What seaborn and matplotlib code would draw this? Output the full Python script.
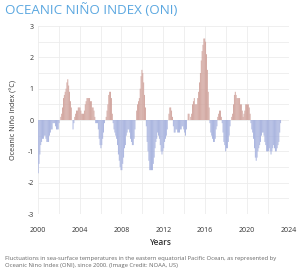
import numpy as np
import pandas as pd
import matplotlib
matplotlib.use("Agg")
import matplotlib.pyplot as plt
import seaborn as sns
from matplotlib.ticker import MultipleLocator

# Monthly ONI values (°C), Jan 2000 onward
oni_2000 = [-1.7, -1.4, -1.1, -0.8, -0.7, -0.6, -0.6, -0.5, -0.5, -0.6, -0.7, -0.7]
oni_2001 = [-0.7, -0.5, -0.4, -0.3, -0.3, -0.1, -0.1, -0.1, -0.2, -0.3, -0.3, -0.3]
oni_2002 = [-0.1, 0.0, 0.1, 0.2, 0.4, 0.7, 0.8, 0.9, 1.0, 1.2, 1.3, 1.1]
oni_2003 = [0.9, 0.6, 0.4, 0.0, -0.3, -0.1, 0.1, 0.2, 0.3, 0.3, 0.4, 0.4]
oni_2004 = [0.4, 0.3, 0.2, 0.2, 0.2, 0.3, 0.5, 0.6, 0.7, 0.7, 0.7, 0.7]
oni_2005 = [0.6, 0.6, 0.4, 0.4, 0.3, 0.1, -0.1, -0.1, -0.1, -0.3, -0.6, -0.8]
oni_2006 = [-0.9, -0.8, -0.6, -0.4, -0.1, 0.0, 0.1, 0.3, 0.5, 0.8, 0.9, 0.9]
oni_2007 = [0.7, 0.2, -0.1, -0.3, -0.4, -0.5, -0.6, -0.8, -1.1, -1.3, -1.5, -1.6]
oni_2008 = [-1.6, -1.4, -1.2, -0.9, -0.8, -0.5, -0.4, -0.3, -0.3, -0.4, -0.6, -0.7]
oni_2009 = [-0.8, -0.8, -0.6, -0.3, 0.0, 0.3, 0.5, 0.6, 0.7, 1.0, 1.4, 1.6]
oni_2010 = [1.5, 1.2, 0.8, 0.4, -0.2, -0.7, -1.0, -1.3, -1.6, -1.6, -1.6, -1.6]
oni_2011 = [-1.4, -1.2, -0.9, -0.7, -0.6, -0.4, -0.5, -0.6, -0.8, -1.0, -1.1, -1.0]
oni_2012 = [-0.9, -0.7, -0.6, -0.5, -0.3, 0.0, 0.2, 0.4, 0.4, 0.3, 0.1, -0.2]
oni_2013 = [-0.4, -0.4, -0.3, -0.3, -0.4, -0.4, -0.4, -0.3, -0.3, -0.2, -0.2, -0.3]
oni_2014 = [-0.4, -0.5, -0.3, 0.0, 0.2, 0.2, 0.0, 0.1, 0.2, 0.5, 0.6, 0.7]
oni_2015 = [0.5, 0.5, 0.5, 0.7, 0.9, 1.2, 1.5, 1.9, 2.2, 2.4, 2.6, 2.6]
oni_2016 = [2.5, 2.1, 1.6, 0.9, 0.4, -0.1, -0.4, -0.5, -0.6, -0.7, -0.7, -0.6]
oni_2017 = [-0.3, -0.2, 0.1, 0.2, 0.3, 0.3, 0.1, -0.1, -0.4, -0.7, -0.8, -1.0]
oni_2018 = [-0.9, -0.9, -0.7, -0.5, -0.2, 0.0, 0.1, 0.2, 0.5, 0.8, 0.9, 0.8]
oni_2019 = [0.7, 0.7, 0.7, 0.7, 0.5, 0.5, 0.3, 0.1, 0.2, 0.3, 0.5, 0.5]
oni_2020 = [0.5, 0.5, 0.4, 0.2, -0.1, -0.3, -0.4, -0.6, -0.9, -1.2, -1.3, -1.2]
oni_2021 = [-1.0, -0.9, -0.8, -0.7, -0.5, -0.4, -0.4, -0.5, -0.7, -0.8, -1.0, -1.0]
oni_2022 = [-1.0, -0.9, -1.0, -1.1, -1.0, -0.9, -0.8, -0.9, -1.0, -1.0, -0.9, -0.8]
oni_2023 = [-0.7, -0.4, -0.1]

years = list(range(2000, 2024))
year_values = [oni_2000, oni_2001, oni_2002, oni_2003, oni_2004, oni_2005, oni_2006,
               oni_2007, oni_2008, oni_2009, oni_2010, oni_2011, oni_2012, oni_2013,
               oni_2014, oni_2015, oni_2016, oni_2017, oni_2018, oni_2019, oni_2020,
               oni_2021, oni_2022, oni_2023]

x_ticks = [2000, 2004, 2008, 2012, 2016, 2020, 2024]
y_ticks = [-3, -2, -1, 0, 1, 2, 3]

title = "OCEANIC NIÑO INDEX (ONI)"
y_label = "Oceanic Niño Index (°C)"
x_label = "Years"
caption = ("Fluctuations in sea-surface temperatures in the eastern equatorial Pacific Ocean, as represented by\n"
           "Oceanic Nino Index (ONI), since 2000. (Image Credit: NOAA, US)")

rows = []
for yr, vals in zip(years, year_values):
    for m, v in enumerate(vals):
        rows.append({"t": round(yr + (m + 0.5) / 12.0, 4), "oni": v,
                     "phase": "warm" if v > 0 else "cool"})
df = pd.DataFrame(rows)

sns.set_theme(style="white")
plt.rcParams['font.family'] = ['Open Sans', 'DejaVu Sans']

fig = plt.figure(figsize=(3.0, 2.72), dpi=100)
ax = fig.add_axes([0.1257, 0.2132, 0.8373, 0.6912])

sns.barplot(data=df, x="t", y="oni", hue="phase", native_scale=True, dodge=False,
            palette={"warm": "#d89990", "cool": "#9aaae6"}, width=1.0,
            errorbar=None, legend=False, linewidth=0, ax=ax)
for p in ax.patches:
    p.set_snap(False)
    p.set_antialiased(True)

ax.set_xlim(2000, 2024)
ax.set_ylim(-3, 3)
ax.xaxis.set_major_locator(MultipleLocator(4))
ax.xaxis.set_minor_locator(MultipleLocator(2))
ax.yaxis.set_major_locator(MultipleLocator(1))
ax.yaxis.set_minor_locator(MultipleLocator(0.5))
ax.set_xticks(x_ticks)
ax.set_xticklabels([str(v) for v in x_ticks])
ax.set_yticks(y_ticks)
ax.set_yticklabels([str(v) for v in y_ticks])
ax.grid(True, which="both", color="#ececec", linewidth=0.6)
ax.set_axisbelow(True)
for s in ax.spines.values():
    s.set_visible(False)
ax.tick_params(axis="both", which="both", length=0, labelsize=5, colors="#333333")
ax.tick_params(axis="x", pad=9)
ax.tick_params(axis="y", pad=3)
ax.set_xlabel("")
ax.set_ylabel("")

fig.text(0.018, 0.963, title, color="#5aa7e0", fontsize=9.6, ha="left", va="center")
fig.text(0.045, 0.558, y_label, rotation=90, fontsize=5.2, color="#333333",
         ha="center", va="center")
fig.text(0.537, 0.11, x_label, fontsize=6, color="#333333", ha="center", va="center",
         fontweight="semibold")
fig.text(0.017, 0.035, caption, fontsize=4.2, color="#666666", ha="left", va="center",
         linespacing=1.5)

fig.savefig("out.png", dpi=100)
